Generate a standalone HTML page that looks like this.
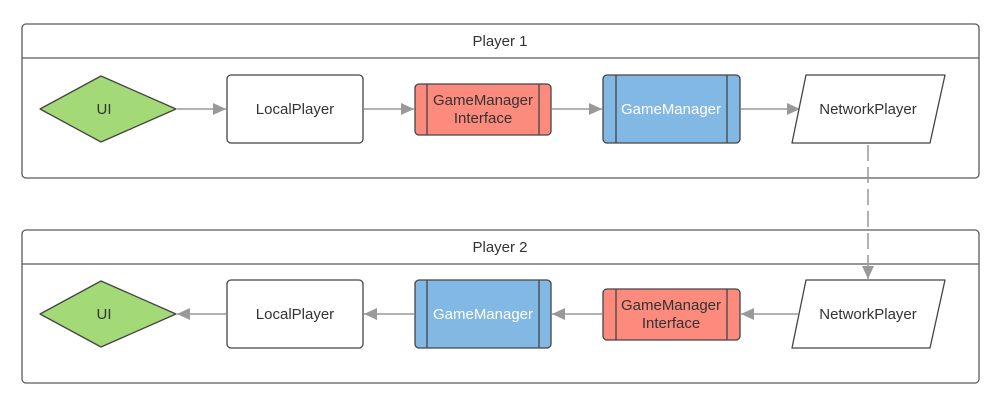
<!DOCTYPE html>
<html><head><style>body{margin:0;background:#fff}svg{display:block}text{font-family:"Liberation Sans",sans-serif;font-size:15px;fill:#333;text-anchor:middle}</style></head>
<body>
<svg width="1001" height="407" viewBox="0 0 1001 407" xmlns="http://www.w3.org/2000/svg">
<defs><marker id="b" markerWidth="14" markerHeight="14" refX="13" refY="7" orient="auto" markerUnits="userSpaceOnUse"><path d="M0,1 L13,7 L0,13 Z" fill="#999"/></marker></defs>
<g fill="none" stroke="#5a5a5a" stroke-width="1.3">
<rect x="22" y="24" width="957" height="154" rx="4" fill="#fff"/><line x1="22" y1="58" x2="979" y2="58"/>
<rect x="22" y="230" width="957" height="153" rx="4" fill="#fff"/><line x1="22" y1="264" x2="979" y2="264"/>
</g>
<text x="500" y="46">Player 1</text><text x="500" y="252">Player 2</text>
<g stroke="#999" stroke-width="1.5" fill="none">
<line x1="177" y1="109" x2="226" y2="109" marker-end="url(#b)"/>
<line x1="364" y1="109" x2="414" y2="109" marker-end="url(#b)"/>
<line x1="552" y1="109" x2="602" y2="109" marker-end="url(#b)"/>
<line x1="741" y1="109" x2="800" y2="109" marker-end="url(#b)"/>
<line x1="868" y1="145" x2="868" y2="279" stroke-dasharray="16,6" marker-end="url(#b)"/>
<line x1="798" y1="314" x2="741" y2="314" marker-end="url(#b)"/>
<line x1="602" y1="314" x2="552" y2="314" marker-end="url(#b)"/>
<line x1="414" y1="314" x2="364" y2="314" marker-end="url(#b)"/>
<line x1="226" y1="314" x2="177" y2="314" marker-end="url(#b)"/>
</g>
<g stroke="#444" stroke-width="1.3">
<polygon points="40,109 101,76 176,109 101,142" fill="#a3d977" stroke-linejoin="round"/>
<rect x="227" y="75" width="136" height="68" rx="4" fill="#fff"/>
<rect x="415" y="84" width="136" height="51" rx="4" fill="#fc8b7e"/><line x1="427" y1="84" x2="427" y2="135"/><line x1="539" y1="84" x2="539" y2="135"/>
<rect x="603" y="75" width="137" height="68" rx="4" fill="#82b8e4"/><line x1="616" y1="75" x2="616" y2="143"/><line x1="727" y1="75" x2="727" y2="143"/>
<polygon points="806,75 945,75 930,143 792,143" fill="#fff" stroke-linejoin="round"/>
<polygon points="40,314 101,281 176,314 101,347" fill="#a3d977" stroke-linejoin="round"/>
<rect x="227" y="280" width="136" height="68" rx="4" fill="#fff"/>
<rect x="415" y="280" width="136" height="68" rx="4" fill="#82b8e4"/><line x1="427" y1="280" x2="427" y2="348"/><line x1="539" y1="280" x2="539" y2="348"/>
<rect x="603" y="289" width="137" height="51" rx="4" fill="#fc8b7e"/><line x1="616" y1="289" x2="616" y2="340"/><line x1="727" y1="289" x2="727" y2="340"/>
<polygon points="806,280 945,280 930,348 792,348" fill="#fff" stroke-linejoin="round"/>
</g>
<text x="104" y="114">UI</text><text x="295" y="114">LocalPlayer</text>
<text x="483" y="105">GameManager</text><text x="483" y="123">Interface</text>
<text x="671" y="114" style="fill:#fff">GameManager</text><text x="868" y="114">NetworkPlayer</text>
<text x="104" y="319">UI</text><text x="295" y="319">LocalPlayer</text>
<text x="483" y="319" style="fill:#fff">GameManager</text>
<text x="671" y="310">GameManager</text><text x="671" y="328">Interface</text>
<text x="868" y="319">NetworkPlayer</text>
</svg>
</body></html>
